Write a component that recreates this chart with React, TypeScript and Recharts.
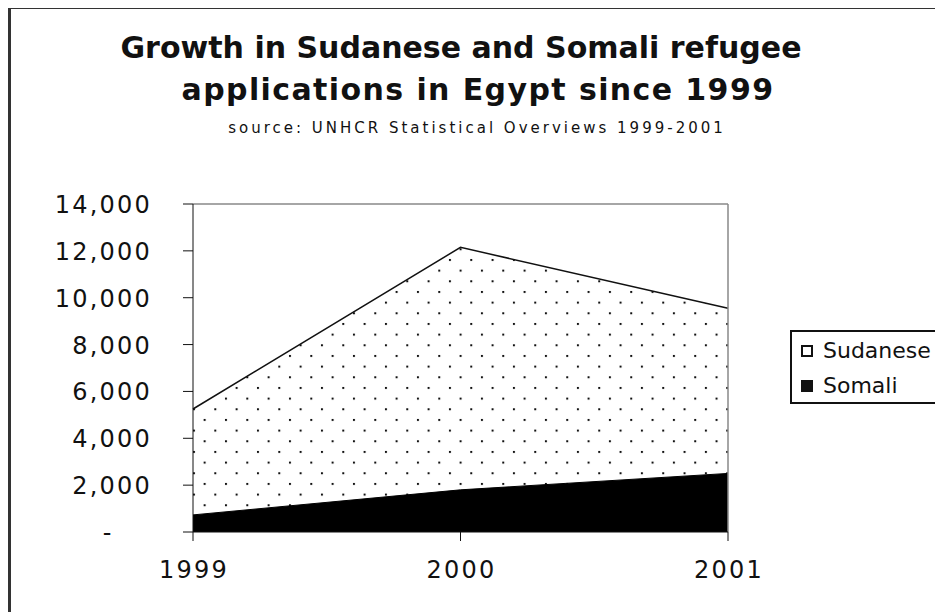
import { AreaChart, Area, XAxis, YAxis, ReferenceLine, Legend } from 'recharts';

const years = ['1999', '2000', '2001'];
const sudanese = [5250, 12150, 9550];
const somali = [730, 1800, 2500];
const yTicks = [0, 2000, 4000, 6000, 8000, 10000, 12000, 14000];
const legendOrder = ['Sudanese', 'Somali'];

const data = years.map((year, i) => ({
  year,
  Sudanese: sudanese[i],
  Somali: somali[i],
}));

const FONT = '"DejaVu Sans", sans-serif';

const YTick = (props: any) => {
  const { x, y, payload } = props;
  const isZero = payload.value === 0;
  return (
    <text
      x={isZero ? x - 43 : x + 2}
      y={y}
      dy={9}
      textAnchor={isZero ? 'middle' : 'end'}
      fontFamily={FONT}
      fontSize={24}
      letterSpacing={isZero ? 0 : 2.2}
      fill="#111"
    >
      {isZero ? '-' : payload.value.toLocaleString('en-US')}
    </text>
  );
};

const XTick = (props: any) => {
  const { x, y, payload } = props;
  return (
    <text
      x={x + 1}
      y={y}
      dy={37}
      textAnchor="middle"
      fontFamily={FONT}
      fontSize={24}
      letterSpacing={2.2}
      fill="#111"
    >
      {payload.value}
    </text>
  );
};

const renderLegend = (props: any) => {
  const items = [...(props.payload || [])].sort(
    (a: any, b: any) => legendOrder.indexOf(a.value) - legendOrder.indexOf(b.value)
  );
  return (
    <div
      style={{
        border: '2px solid #111',
        boxSizing: 'border-box',
        width: 153,
        height: 74,
        padding: '1px 0 0 9px',
        fontFamily: FONT,
        fontSize: 22,
        color: '#111',
        background: '#fff',
      }}
    >
      {items.map((item: any) => (
        <div
          key={item.value}
          style={{ display: 'flex', alignItems: 'center', height: 35, whiteSpace: 'nowrap' }}
        >
          <span
            style={{
              display: 'inline-block',
              width: 12,
              height: 12,
              boxSizing: 'border-box',
              border: '2px solid #111',
              background: item.value === 'Somali' ? '#111' : '#fff',
              marginRight: 10,
            }}
          />
          {item.value}
        </div>
      ))}
    </div>
  );
};

export default function App() {
  return (
    <div
      style={{
        position: 'relative',
        width: 935,
        height: 606,
        marginTop: -2,
        borderLeft: '3px solid #333',
        borderTop: '3px solid #333',
        boxSizing: 'border-box',
        overflow: 'hidden',
        background: '#fff',
      }}
    >
      <div style={{ position: 'absolute', left: -11, top: -9, width: 943, height: 612 }}>
        <AreaChart
          width={943}
          height={612}
          data={data}
          margin={{ top: 204, right: 62, bottom: 0, left: 0 }}
        >
          <defs>
            <pattern id="dots" patternUnits="userSpaceOnUse" x={1} y={3} width={21.33} height={21.33}>
              <rect width={21.33} height={21.33} fill="#fff" />
              <rect x={0} y={0} width={2} height={2} fill="#111" />
              <rect x={10.67} y={10.67} width={2} height={2} fill="#111" />
            </pattern>
          </defs>
          <XAxis
            dataKey="year"
            stroke="#111"
            height={80}
            tickSize={9}
            tickMargin={0}
            tick={<XTick />}
          />
          <YAxis
            domain={[0, 14000]}
            ticks={yTicks}
            stroke="#111"
            tickSize={10}
            tickMargin={33}
            width={193}
            tick={<YTick />}
          />
          <Area
            type="linear"
            dataKey="Sudanese"
            stroke="#111"
            strokeWidth={1.5}
            fill="url(#dots)"
            fillOpacity={1}
            isAnimationActive={false}
          />
          <Area
            type="linear"
            dataKey="Somali"
            stroke="#000"
            strokeWidth={1}
            fill="#000"
            fillOpacity={1}
            isAnimationActive={false}
          />
          <ReferenceLine y={14000} stroke="#888" strokeWidth={1.5} />
          <ReferenceLine x="2001" stroke="#888" strokeWidth={1.5} />
          <Legend
            layout="vertical"
            align="right"
            verticalAlign="middle"
            content={renderLegend}
            wrapperStyle={{ left: 790, top: 330, right: 'auto', width: 153, height: 74 }}
          />
        </AreaChart>
        <svg
          width={943}
          height={150}
          style={{ position: 'absolute', left: 0, top: 0, pointerEvents: 'none' }}
        >
          <text x={461} y={58} textAnchor="middle" fontFamily={FONT} fontWeight="bold" fontSize={30} fill="#111">
            Growth in Sudanese and Somali refugee
          </text>
          <text x={478} y={100} textAnchor="middle" fontFamily={FONT} fontWeight="bold" fontSize={30} letterSpacing={1.4} fill="#111">
            applications in Egypt since 1999
          </text>
          <text x={477} y={133} textAnchor="middle" fontFamily={FONT} fontSize={15} letterSpacing={3} fill="#111">
            source: UNHCR Statistical Overviews 1999-2001
          </text>
        </svg>
      </div>
    </div>
  );
}
